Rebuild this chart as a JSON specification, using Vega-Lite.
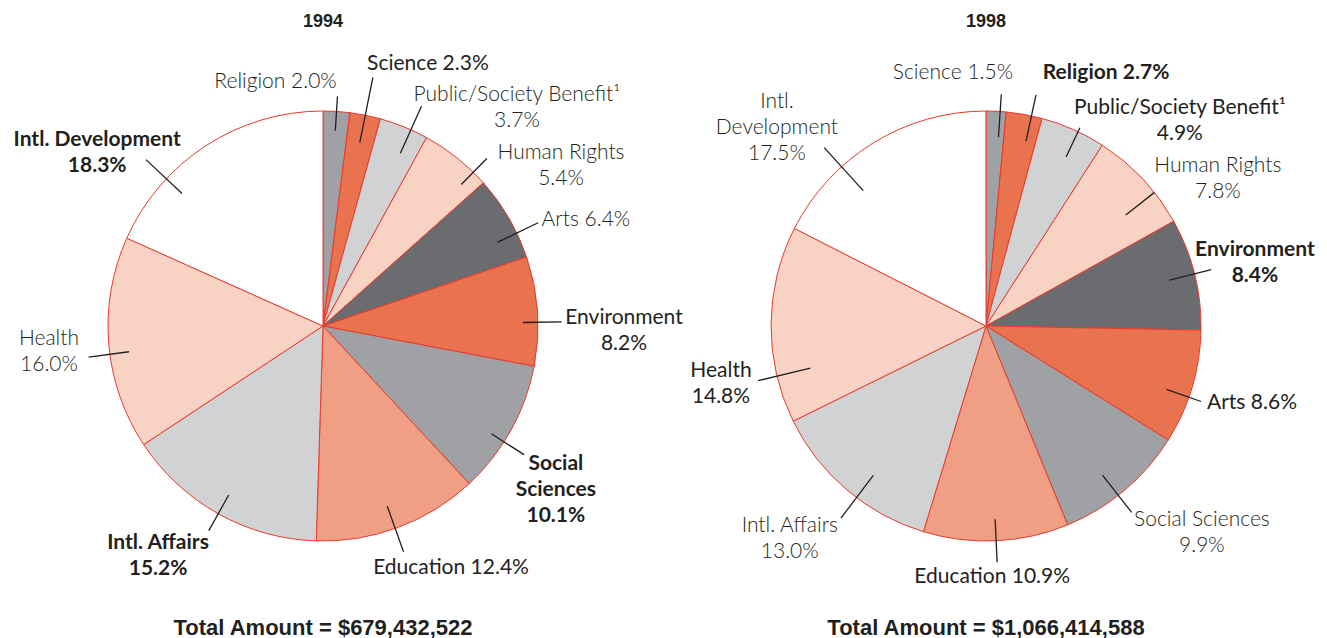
{
  "$schema": "https://vega.github.io/schema/vega-lite/v6.json",
  "padding": 0,
  "background": "white",
  "bounds": "flush",
  "spacing": 17,
  "config": {"view": {"stroke": null}},
  "datasets": {
    "slices": [
      {"year": 1994, "slot": 0, "category": "Religion", "pct": 2.0, "label": "Religion 2.0%"},
      {"year": 1994, "slot": 1, "category": "Science", "pct": 2.3, "label": "Science 2.3%"},
      {"year": 1994, "slot": 2, "category": "Public/Society Benefit", "pct": 3.7, "label": "Public/Society Benefit¹\n3.7%"},
      {"year": 1994, "slot": 3, "category": "Human Rights", "pct": 5.4, "label": "Human Rights\n5.4%"},
      {"year": 1994, "slot": 4, "category": "Arts", "pct": 6.4, "label": "Arts 6.4%"},
      {"year": 1994, "slot": 5, "category": "Environment", "pct": 8.2, "label": "Environment\n8.2%"},
      {"year": 1994, "slot": 6, "category": "Social Sciences", "pct": 10.1, "label": "Social\nSciences\n10.1%"},
      {"year": 1994, "slot": 7, "category": "Education", "pct": 12.4, "label": "Education 12.4%"},
      {"year": 1994, "slot": 8, "category": "Intl. Affairs", "pct": 15.2, "label": "Intl. Affairs\n15.2%"},
      {"year": 1994, "slot": 9, "category": "Health", "pct": 16.0, "label": "Health\n16.0%"},
      {"year": 1994, "slot": 10, "category": "Intl. Development", "pct": 18.3, "label": "Intl. Development\n18.3%"},
      {"year": 1998, "slot": 0, "category": "Science", "pct": 1.5, "label": "Science 1.5%"},
      {"year": 1998, "slot": 1, "category": "Religion", "pct": 2.7, "label": "Religion 2.7%"},
      {"year": 1998, "slot": 2, "category": "Public/Society Benefit", "pct": 4.9, "label": "Public/Society Benefit¹\n4.9%"},
      {"year": 1998, "slot": 3, "category": "Human Rights", "pct": 7.8, "label": "Human Rights\n7.8%"},
      {"year": 1998, "slot": 4, "category": "Environment", "pct": 8.4, "label": "Environment\n8.4%"},
      {"year": 1998, "slot": 5, "category": "Arts", "pct": 8.6, "label": "Arts 8.6%"},
      {"year": 1998, "slot": 6, "category": "Social Sciences", "pct": 9.9, "label": "Social Sciences\n9.9%"},
      {"year": 1998, "slot": 7, "category": "Education", "pct": 10.9, "label": "Education 10.9%"},
      {"year": 1998, "slot": 8, "category": "Intl. Affairs", "pct": 13.0, "label": "Intl. Affairs\n13.0%"},
      {"year": 1998, "slot": 9, "category": "Health", "pct": 14.8, "label": "Health\n14.8%"},
      {"year": 1998, "slot": 10, "category": "Intl. Development", "pct": 17.5, "label": "Intl.\nDevelopment\n17.5%"}
    ],
    "totals": [
      {"year": 1994, "total": 679432522},
      {"year": 1998, "total": 1066414588}
    ]
  },
  "hconcat": [
    {
      "width": 646,
      "height": 636,
      "layer": [
        {
          "data": {"name": "slices"},
          "transform": [{"filter": "datum.year == 1994"}],
          "mark": {"type": "arc", "outerRadius": 215, "stroke": "#e63b2e", "strokeWidth": 1},
          "encoding": {
            "theta": {"field": "pct", "type": "quantitative", "stack": true},
            "order": {"field": "slot", "type": "quantitative"},
            "color": {"field": "slot", "type": "ordinal", "legend": null,
              "scale": {"domain": [0,1,2,3,4,5,6,7,8,9,10], "range": ["#a0a1a5","#e9724f","#d1d2d4","#f8d3c3","#6b6c70","#e9724f","#a0a1a5","#f09f84","#d1d2d4","#f8d3c3","#ffffff"]}},
            "x": {"datum": 0, "type": "quantitative", "axis": null, "scale": {"domain": [-1.50233, 1.50233], "nice": false, "zero": false}},
            "y": {"datum": 0, "type": "quantitative", "axis": null, "scale": {"domain": [-1.44186, 1.51628], "nice": false, "zero": false}}
          }
        },
        {
          "data": {"name": "slices"},
          "transform": [
            {"filter": "datum.year == 1994"},
            {"window": [{"op": "sum", "field": "pct", "as": "cum"}], "sort": [{"field": "slot", "order": "ascending"}], "frame": [null, 0]},
            {"calculate": "(datum.year == 1994 ? [[0.5,0.91,1.07,-0.288,0.065],[0.5,0.87,1.18,0.256,0.060],[0.65,0.88,1.12,0.444,-0.009],[0.8,0.92,1.09,0.345,-0.033],[0.7,0.90,1.11,0.222,0.013],[0.6,0.93,1.11,0.290,-0.043],[0.6,0.93,1.11,0.148,-0.165],[0.52,0.89,1.115,0.221,-0.075],[0.5,0.90,1.09,-0.236,-0.116],[0.45,0.91,1.10,-0.184,0.022],[0.29,0.90,1.13,-0.227,0.033]] : [[0.7,0.88,1.08,-0.225,0.099],[0.7,0.88,1.10,0.326,0.101],[0.58,0.87,1.02,0.465,0.032],[0.67,0.83,1.0,0.295,0.060],[0.5,0.88,1.08,0.203,0.033],[0.59,0.89,1.06,0.237,-0.008],[0.56,0.88,1.10,0.327,-0.096],[0.5,0.90,1.10,-0.023,-0.069],[0.43,0.87,1.12,-0.238,-0.096],[0.24,0.84,1.09,-0.173,-0.015],[0.33,0.85,1.12,-0.22,0.091]])[datum.slot]", "as": "p"},
            {"calculate": "(datum.year == 1994 ? [300,400,300,300,300,400,700,400,700,300,700] : [300,700,400,300,700,400,300,400,300,400,300])[datum.slot]", "as": "fw"},
            {"calculate": "2 * PI * (datum.cum - datum.pct + datum.p[0] * datum.pct) / 100", "as": "ang"},
            {"calculate": "datum.p[1] * sin(datum.ang)", "as": "ax"},
            {"calculate": "datum.p[1] * cos(datum.ang)", "as": "ay"},
            {"calculate": "datum.p[2] * sin(datum.ang)", "as": "bx"},
            {"calculate": "datum.p[2] * cos(datum.ang)", "as": "by"},
            {"calculate": "datum.bx + datum.p[3]", "as": "lx"},
            {"calculate": "datum.by + datum.p[4] + (length(split(datum.label, '\\n')) - 1) * 13 / 215", "as": "ly"}
          ],
          "layer": [
            {
              "mark": {"type": "rule", "color": "#231f20", "strokeWidth": 1.3},
              "encoding": {
                "x": {"field": "ax", "type": "quantitative", "axis": null},
                "y": {"field": "ay", "type": "quantitative", "axis": null},
                "x2": {"field": "bx"},
                "y2": {"field": "by"}
              }
            },
            {
              "mark": {"type": "text", "font": "Lato", "fontSize": 21, "lineHeight": 26, "lineBreak": "\n", "align": "center", "baseline": "middle", "color": "#231f20", "fontWeight": {"expr": "datum.fw"}},
              "encoding": {
                "x": {"field": "lx", "type": "quantitative", "axis": null},
                "y": {"field": "ly", "type": "quantitative", "axis": null},
                "text": {"field": "label", "type": "nominal"}
              }
            }
          ]
        },
        {
          "data": {"name": "totals"},
          "transform": [
            {"filter": "datum.year == 1994"},
            {"calculate": "'Total Amount = ' + format(datum.total, '$,')", "as": "foot"}
          ],
          "layer": [
            {
              "mark": {"type": "text", "font": "Liberation Sans", "fontSize": 18, "fontWeight": "bold", "align": "center", "baseline": "middle", "color": "#231f20"},
              "encoding": {
                "x": {"datum": 0, "type": "quantitative", "axis": null},
                "y": {"datum": 1.414, "type": "quantitative", "axis": null},
                "text": {"field": "year", "type": "nominal"}
              }
            },
            {
              "mark": {"type": "text", "font": "Liberation Sans", "fontSize": 22, "fontWeight": "bold", "align": "center", "baseline": "middle", "color": "#231f20"},
              "encoding": {
                "x": {"datum": 0, "type": "quantitative", "axis": null},
                "y": {"datum": -1.405, "type": "quantitative", "axis": null},
                "text": {"field": "foot", "type": "nominal"}
              }
            }
          ]
        }
      ]
    },
    {
      "width": 646,
      "height": 636,
      "layer": [
        {
          "data": {"name": "slices"},
          "transform": [{"filter": "datum.year == 1998"}],
          "mark": {"type": "arc", "outerRadius": 215, "stroke": "#e63b2e", "strokeWidth": 1},
          "encoding": {
            "theta": {"field": "pct", "type": "quantitative", "stack": true},
            "order": {"field": "slot", "type": "quantitative"},
            "color": {"field": "slot", "type": "ordinal", "legend": null,
              "scale": {"domain": [0,1,2,3,4,5,6,7,8,9,10], "range": ["#a0a1a5","#e9724f","#d1d2d4","#f8d3c3","#6b6c70","#e9724f","#a0a1a5","#f09f84","#d1d2d4","#f8d3c3","#ffffff"]}},
            "x": {"datum": 0, "type": "quantitative", "axis": null, "scale": {"domain": [-1.50233, 1.50233], "nice": false, "zero": false}},
            "y": {"datum": 0, "type": "quantitative", "axis": null, "scale": {"domain": [-1.44186, 1.51628], "nice": false, "zero": false}}
          }
        },
        {
          "data": {"name": "slices"},
          "transform": [
            {"filter": "datum.year == 1998"},
            {"window": [{"op": "sum", "field": "pct", "as": "cum"}], "sort": [{"field": "slot", "order": "ascending"}], "frame": [null, 0]},
            {"calculate": "(datum.year == 1994 ? [[0.5,0.91,1.07,-0.288,0.065],[0.5,0.87,1.18,0.256,0.060],[0.65,0.88,1.12,0.444,-0.009],[0.8,0.92,1.09,0.345,-0.033],[0.7,0.90,1.11,0.222,0.013],[0.6,0.93,1.11,0.290,-0.043],[0.6,0.93,1.11,0.148,-0.165],[0.52,0.89,1.115,0.221,-0.075],[0.5,0.90,1.09,-0.236,-0.116],[0.45,0.91,1.10,-0.184,0.022],[0.29,0.90,1.13,-0.227,0.033]] : [[0.7,0.88,1.08,-0.225,0.099],[0.7,0.88,1.10,0.326,0.101],[0.58,0.87,1.02,0.465,0.032],[0.67,0.83,1.0,0.295,0.060],[0.5,0.88,1.08,0.203,0.033],[0.59,0.89,1.06,0.237,-0.008],[0.56,0.88,1.10,0.327,-0.096],[0.5,0.90,1.10,-0.023,-0.069],[0.43,0.87,1.12,-0.238,-0.096],[0.24,0.84,1.09,-0.173,-0.015],[0.33,0.85,1.12,-0.22,0.091]])[datum.slot]", "as": "p"},
            {"calculate": "(datum.year == 1994 ? [300,400,300,300,300,400,700,400,700,300,700] : [300,700,400,300,700,400,300,400,300,400,300])[datum.slot]", "as": "fw"},
            {"calculate": "2 * PI * (datum.cum - datum.pct + datum.p[0] * datum.pct) / 100", "as": "ang"},
            {"calculate": "datum.p[1] * sin(datum.ang)", "as": "ax"},
            {"calculate": "datum.p[1] * cos(datum.ang)", "as": "ay"},
            {"calculate": "datum.p[2] * sin(datum.ang)", "as": "bx"},
            {"calculate": "datum.p[2] * cos(datum.ang)", "as": "by"},
            {"calculate": "datum.bx + datum.p[3]", "as": "lx"},
            {"calculate": "datum.by + datum.p[4] + (length(split(datum.label, '\\n')) - 1) * 13 / 215", "as": "ly"}
          ],
          "layer": [
            {
              "mark": {"type": "rule", "color": "#231f20", "strokeWidth": 1.3},
              "encoding": {
                "x": {"field": "ax", "type": "quantitative", "axis": null},
                "y": {"field": "ay", "type": "quantitative", "axis": null},
                "x2": {"field": "bx"},
                "y2": {"field": "by"}
              }
            },
            {
              "mark": {"type": "text", "font": "Lato", "fontSize": 21, "lineHeight": 26, "lineBreak": "\n", "align": "center", "baseline": "middle", "color": "#231f20", "fontWeight": {"expr": "datum.fw"}},
              "encoding": {
                "x": {"field": "lx", "type": "quantitative", "axis": null},
                "y": {"field": "ly", "type": "quantitative", "axis": null},
                "text": {"field": "label", "type": "nominal"}
              }
            }
          ]
        },
        {
          "data": {"name": "totals"},
          "transform": [
            {"filter": "datum.year == 1998"},
            {"calculate": "'Total Amount = ' + format(datum.total, '$,')", "as": "foot"}
          ],
          "layer": [
            {
              "mark": {"type": "text", "font": "Liberation Sans", "fontSize": 18, "fontWeight": "bold", "align": "center", "baseline": "middle", "color": "#231f20"},
              "encoding": {
                "x": {"datum": 0, "type": "quantitative", "axis": null},
                "y": {"datum": 1.414, "type": "quantitative", "axis": null},
                "text": {"field": "year", "type": "nominal"}
              }
            },
            {
              "mark": {"type": "text", "font": "Liberation Sans", "fontSize": 22, "fontWeight": "bold", "align": "center", "baseline": "middle", "color": "#231f20"},
              "encoding": {
                "x": {"datum": 0, "type": "quantitative", "axis": null},
                "y": {"datum": -1.405, "type": "quantitative", "axis": null},
                "text": {"field": "foot", "type": "nominal"}
              }
            }
          ]
        }
      ]
    }
  ]
}
